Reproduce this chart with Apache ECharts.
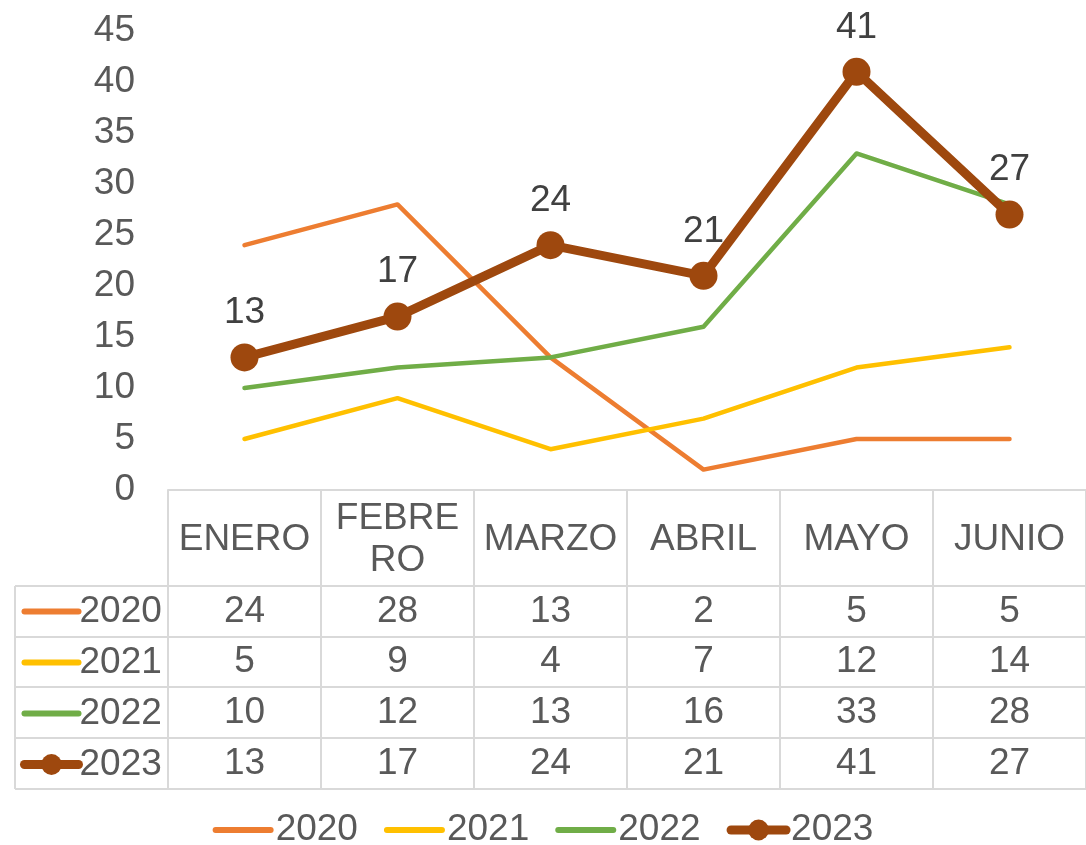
<!DOCTYPE html>
<html><head><meta charset="utf-8">
<script src="https://cdn.jsdelivr.net/npm/echarts@6/dist/echarts.min.js"></script>
<style>html,body{margin:0;padding:0;background:#fff}#c{width:1086px;height:845px}</style>
</head><body><div id="c"></div>
<script>
const categories = ['ENERO', 'FEBRE\nRO', 'MARZO', 'ABRIL', 'MAYO', 'JUNIO'];
const seriesNames = ['2020', '2021', '2022', '2023'];
const v2020 = [24, 28, 13, 2, 5, 5];
const v2021 = [5, 9, 4, 7, 12, 14];
const v2022 = [10, 12, 13, 16, 33, 28];
const v2023 = [13, 17, 24, 21, 41, 27];
const yTicks = { min: 0, max: 45, interval: 5 };

const values = [v2020, v2021, v2022, v2023];
const colors = ['#ED7D31', '#FFC000', '#70AD47', '#9E480E'];
const FONT = 'Liberation Sans, Arial, sans-serif';
const FS = 37;
const TXT = '#595959';
const LINE = '#D9D9D9';
const gridLeft = 168, gridTop = 31, gridW = 924, gridH = 459;
const headerH = 96;
const rowH = [51, 50, 51, 51];
const tableLeft = 15;

const chart = echarts.init(document.getElementById('c'));

const xAxes = [];
xAxes.push({
  type: 'category', data: categories, position: 'bottom', offset: 0,
  boundaryGap: true,
  axisLine: { show: true, lineStyle: { color: LINE, width: 2 } },
  axisTick: { show: true, interval: 0, length: headerH, lineStyle: { color: LINE, width: 2 } },
  axisLabel: { interval: 0, margin: headerH / 2 + 2, verticalAlign: 'middle', color: TXT, fontSize: FS, fontFamily: FONT, lineHeight: 42 }
});
let off = headerH;
const rowCenters = [];
for (let i = 0; i < values.length; i++) {
  xAxes.push({
    type: 'category', data: values[i].map(String), position: 'bottom', offset: off,
    boundaryGap: true,
    axisLine: { show: true, lineStyle: { color: LINE, width: 2 } },
    axisTick: { show: true, interval: 0, length: rowH[i], lineStyle: { color: LINE, width: 2 } },
    axisLabel: { interval: 0, margin: rowH[i] / 2, verticalAlign: 'middle', color: TXT, fontSize: FS, fontFamily: FONT }
  });
  rowCenters.push(gridTop + gridH + off + rowH[i] / 2);
  off += rowH[i];
}
xAxes.push({
  type: 'category', data: categories, position: 'bottom', offset: off,
  axisLine: { show: true, lineStyle: { color: LINE, width: 2 } },
  axisTick: { show: false }, axisLabel: { show: false }
});
const tableBottom = gridTop + gridH + off;

const graphics = [];
let y = gridTop + gridH + headerH;
const hy = [y];
for (let i = 0; i < rowH.length; i++) { y += rowH[i]; hy.push(y); }
hy.forEach(yy => graphics.push({ type: 'line', shape: { x1: tableLeft, y1: yy, x2: gridLeft, y2: yy }, style: { stroke: LINE, lineWidth: 2 } }));
graphics.push({ type: 'line', shape: { x1: tableLeft, y1: hy[0], x2: tableLeft, y2: tableBottom }, style: { stroke: LINE, lineWidth: 2 } });

const legendData = seriesNames.map((n, i) => ({
  name: n,
  lineStyle: { width: i === 3 ? 9 : 6, color: colors[i], cap: 'round' },
  itemStyle: i === 3 ? { color: colors[i] } : { opacity: 0 }
}));

chart.setOption({
  animation: false,
  backgroundColor: '#fff',
  grid: { left: gridLeft, top: gridTop, width: gridW, height: gridH, containLabel: false },
  graphic: graphics,
  legend: [
    {
      orient: 'vertical', left: 20, top: rowCenters[0] - 20, padding: 0,
      itemWidth: 54, itemHeight: 26, itemGap: 11,
      data: legendData,
      textStyle: { color: TXT, fontSize: FS, fontFamily: FONT, lineHeight: 40, padding: [0, 0, 0, -4] }
    },
    {
      orient: 'horizontal', left: 'center', top: 810, padding: 0,
      itemWidth: 55, itemHeight: 26, itemGap: 26,
      data: legendData,
      textStyle: { color: TXT, fontSize: FS, fontFamily: FONT, lineHeight: 40 }
    }
  ],
  xAxis: xAxes,
  yAxis: {
    type: 'value', min: yTicks.min, max: yTicks.max, interval: yTicks.interval,
    axisLine: { show: false }, axisTick: { show: false }, splitLine: { show: false },
    axisLabel: { color: TXT, fontSize: FS, fontFamily: FONT, margin: 33 }
  },
  series: seriesNames.map((n, i) => {
    const s = {
      name: n, type: 'line', data: values[i], xAxisIndex: 0,
      lineStyle: { color: colors[i], width: i === 3 ? 9 : 4.5, cap: 'round', join: 'round' },
      itemStyle: { color: colors[i] },
      z: 2 + i
    };
    if (i === 3) {
      s.symbol = 'circle'; s.symbolSize = 28; s.showSymbol = true;
      s.label = { show: true, position: 'top', distance: 12, color: '#404040', fontSize: FS, fontFamily: FONT };
    } else {
      s.symbol = 'none';
    }
    return s;
  })
});
</script></body></html>
